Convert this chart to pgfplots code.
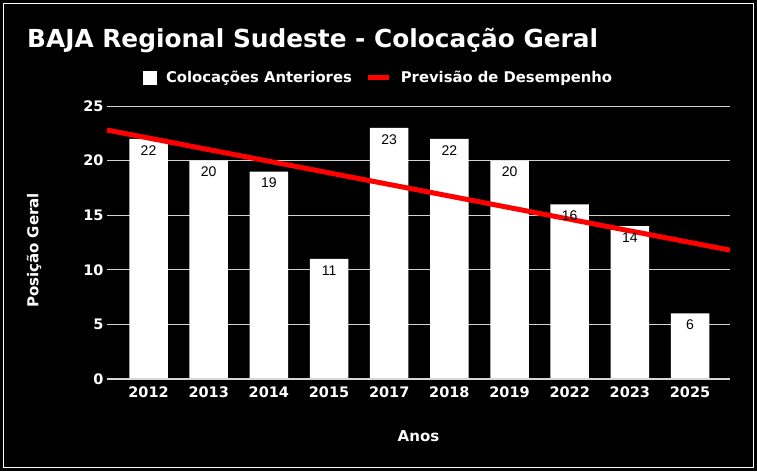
\documentclass[border=0pt]{standalone}
\usepackage{fontspec}
\usepackage{pgfplots}
\pgfplotsset{compat=1.18}
\newfontfamily\djfont{DejaVu Sans}
\newfontfamily\libfont{Liberation Sans}
\definecolor{gridc}{RGB}{210,210,210}
\definecolor{basec}{RGB}{215,215,215}
\definecolor{trend}{RGB}{255,0,0}
\begin{document}
\begin{tikzpicture}
\fill[black] (0pt,0pt) rectangle (757pt,471pt);
\draw[white, line width=1pt] (3.5pt,3.5pt) rectangle (753.5pt,467.5pt);
\node[anchor=base west, text=white, font=\djfont\bfseries\fontsize{24.8}{28}\selectfont, inner sep=0pt] at (27pt,423pt) {BAJA Regional Sudeste - Colocação Geral};
\begin{axis}[
  at={(107pt,92pt)}, anchor=south west,
  scale only axis, width=623pt, height=273pt,
  xmin=-0.69, xmax=9.664, ymin=0, ymax=25,
  axis line style={draw=none},
  major tick length=0pt,
  xtick={0,...,9},
  xticklabels={2012,2013,2014,2015,2017,2018,2019,2022,2023,2025},
  ytick={0,5,10,15,20,25},
  ymajorgrids, grid style={gridc, line width=0.9pt},
  ticklabel style={text=white, font=\djfont\bfseries\fontsize{14.5}{17}\selectfont},
  xticklabel style={yshift=-4pt},
  /pgf/number format/assume math mode=true,
  xlabel={Anos}, ylabel={Posição Geral},
  label style={text=white, font=\djfont\bfseries\fontsize{15}{18}\selectfont},
  xlabel style={at={(axis description cs:0.5,-0.209)}, anchor=center},
  ylabel style={at={(axis description cs:-0.117,0.471)}, anchor=center, rotate=0},
  legend columns=2,
  legend style={at={(axis description cs:0.436,1.104)}, anchor=center, draw=none, fill=none, text=white,
    font=\djfont\bfseries\fontsize{14.8}{17}\selectfont,
    /tikz/every odd column/.append style={column sep=7pt},
    /tikz/every even column/.append style={column sep=12pt}},
  clip=false,
]
\addplot[ybar, bar width=38.5pt, fill=white, draw=none,
  legend image code/.code={\fill[white] (0pt,-7pt) rectangle (14pt,7pt);}]
  coordinates {(0,22) (1,20) (2,19) (3,11) (4,23) (5,22) (6,20) (7,16) (8,14) (9,6)};
\addlegendentry{Colocações Anteriores}
\addplot[trend, line width=5pt, legend image code/.code={\draw[trend, line width=5pt] (0pt,0pt) -- (21pt,0pt);}]
  coordinates {(-0.69,22.8) (9.664,11.8)};
\addlegendentry{Previsão de Desempenho}
\draw[basec, line width=2pt] (axis cs:-0.69,0) -- (axis cs:9.664,0);
\addplot[ybar, bar width=38.5pt, draw=none, fill=none, forget plot,
  nodes near coords,
  every node near coord/.append style={anchor=north, yshift=-3pt, text=black, font=\libfont\fontsize{14}{16}\selectfont}]
  coordinates {(0,22) (1,20) (2,19) (3,11) (4,23) (5,22) (6,20) (7,16) (8,14) (9,6)};
\end{axis}
\end{tikzpicture}
\end{document}
